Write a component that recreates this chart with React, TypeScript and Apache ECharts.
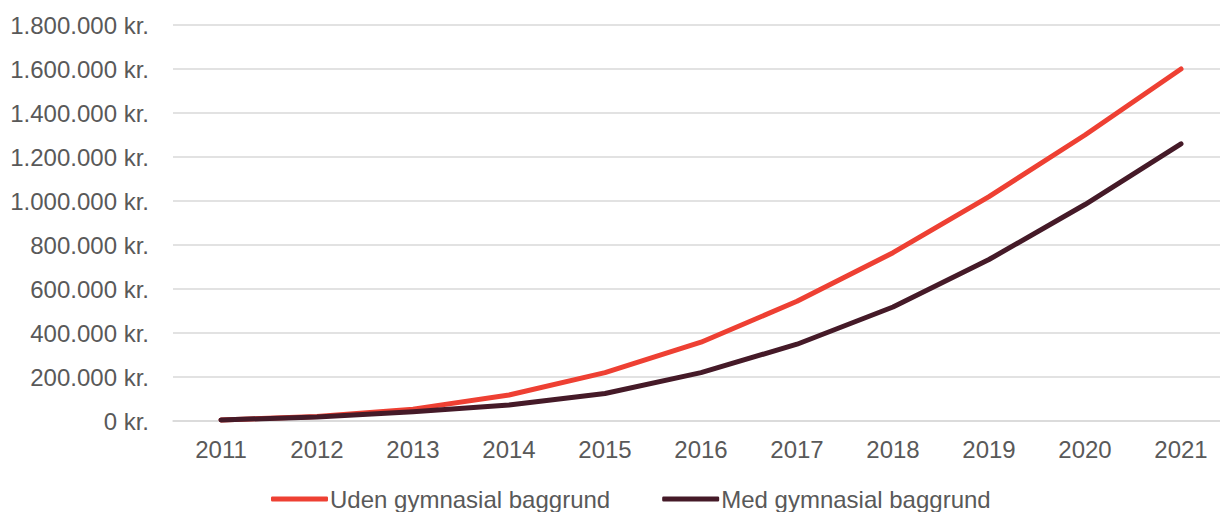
import React, { useEffect, useRef } from "react";
import * as echarts from "echarts";

const years = ["2011", "2012", "2013", "2014", "2015", "2016", "2017", "2018", "2019", "2020", "2021"];
const udenGymnasial = [5000, 20000, 54000, 118000, 220000, 358000, 544000, 765000, 1020000, 1300000, 1600000];
const medGymnasial = [5000, 18000, 42000, 73000, 125000, 220000, 349000, 518000, 734000, 984000, 1260000];
const seriesNames = ["Uden gymnasial baggrund", "Med gymnasial baggrund"];

const fmt = (v: number) => {
  const s = Math.round(v).toString().replace(/\B(?=(\d{3})+(?!\d))/g, ".");
  return s + " kr.";
};

export default function App() {
  const ref = useRef<HTMLDivElement>(null);
  useEffect(() => {
    if (!ref.current) return;
    const chart = echarts.init(ref.current, undefined, { renderer: "svg" });
    const font = "Liberation Sans, Arial, sans-serif";
    chart.setOption({
      animation: false,
      color: ["#EE4033", "#451A28"],
      grid: { left: 173, top: 25, width: 1056, height: 396, containLabel: false },
      legend: {
        bottom: -4,
        left: 266,
        itemWidth: 57,
        itemHeight: 5,
        itemGap: 52,
        icon: "roundRect",
        textStyle: { fontFamily: font, fontSize: 24, color: "#595959", padding: [0, 0, 0, -3] },
        data: seriesNames,
      },
      xAxis: {
        type: "category",
        data: years,
        boundaryGap: true,
        axisLine: { show: true, lineStyle: { color: "#D9D9D9", width: 1.5 } },
        axisTick: { show: false },
        axisLabel: { fontFamily: font, fontSize: 24, color: "#595959", margin: 16 },
      },
      yAxis: {
        type: "value",
        min: 0,
        max: 1800000,
        interval: 200000,
        axisLine: { show: false },
        axisTick: { show: false },
        splitLine: { lineStyle: { color: "#D9D9D9", width: 1.5 } },
        axisLabel: { fontFamily: font, fontSize: 24, color: "#595959", margin: 24, formatter: fmt },
      },
      series: [
        {
          name: seriesNames[0],
          type: "line",
          data: udenGymnasial,
          showSymbol: false,
          symbol: "none",
          lineStyle: { width: 5, cap: "round", join: "round" },
          z: 2,
        },
        {
          name: seriesNames[1],
          type: "line",
          data: medGymnasial,
          showSymbol: false,
          symbol: "none",
          lineStyle: { width: 5, cap: "round", join: "round" },
          z: 3,
        },
      ],
    });
    return () => chart.dispose();
  }, []);
  return (
    <div style={{ position: "fixed", left: 0, top: 0, width: 1220, height: 512, overflow: "hidden", background: "#fff" }}>
      <div ref={ref} style={{ width: 1240, height: 512 }} />
    </div>
  );
}
